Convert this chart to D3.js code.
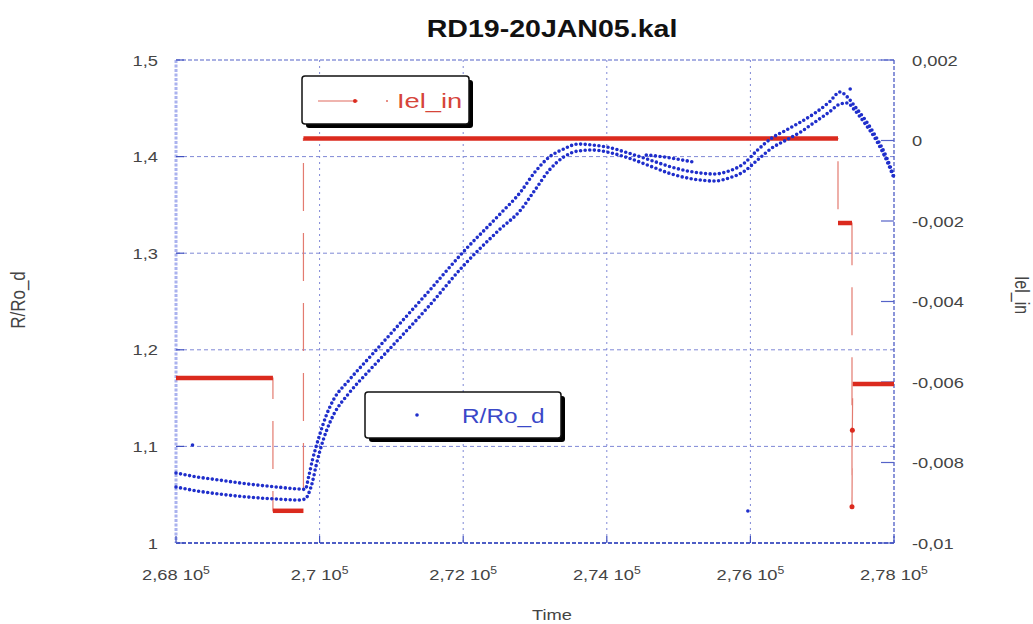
<!DOCTYPE html>
<html>
<head>
<meta charset="utf-8">
<script src="https://cdn.jsdelivr.net/npm/d3@7"></script>
<style>
  body { margin: 0; background: #fff; }
  svg { display: block; }
</style>
</head>
<body>
<div id="chart"></div>
<script>
// axis ticks
const xTicks = [268000, 270000, 272000, 274000, 276000, 278000];
const xTickLabels = ["2,68", "2,7", "2,72", "2,74", "2,76", "2,78"];
const leftTicks = [1, 1.1, 1.2, 1.3, 1.4, 1.5];
const leftTickLabels = ["1", "1,1", "1,2", "1,3", "1,4", "1,5"];
const rightTicks = [-0.01, -0.008, -0.006, -0.004, -0.002, 0, 0.002];
const rightTickLabels = ["-0,01", "-0,008", "-0,006", "-0,004", "-0,002", "0", "0,002"];

// R/Ro_d, two passes read at the same times
const rdTime = [268000, 268300, 268600, 269000, 269400, 269700, 269800, 269850, 269900, 269950,
  270000, 270100, 270200, 270400, 270700, 271000, 271500, 272000, 272500, 272800,
  273000, 273200, 273400, 273600, 273800, 274000, 274300, 274600, 274900, 275200,
  275500, 275700, 275900, 276100, 276300, 276500, 276700, 276900, 277100, 277250,
  277350, 277450, 277600, 277750, 277900, 278000];
const rdUpper = [1.0725, 1.0683, 1.0652, 1.0611, 1.0580, 1.0559, 1.0555, 1.0694, 1.0859, 1.0994,
  1.1118, 1.1335, 1.1491, 1.1677, 1.1925, 1.2174, 1.2588, 1.3012, 1.3395, 1.3634,
  1.3841, 1.3996, 1.4079, 1.4130, 1.4120, 1.4099, 1.4037, 1.3965, 1.3892, 1.3841,
  1.3820, 1.3851, 1.3923, 1.4068, 1.4193, 1.4275, 1.4358, 1.4451, 1.4565, 1.4669,
  1.4617, 1.4524, 1.4379, 1.4203, 1.3986, 1.3789];
const rdLower = [1.0580, 1.0538, 1.0507, 1.0476, 1.0455, 1.0445, 1.0455, 1.0518, 1.0631, 1.0797,
  1.0942, 1.1170, 1.1335, 1.1542, 1.1791, 1.2029, 1.2433, 1.2867, 1.3240, 1.3447,
  1.3654, 1.3861, 1.3996, 1.4058, 1.4068, 1.4048, 1.3986, 1.3903, 1.3820, 1.3768,
  1.3747, 1.3778, 1.3841, 1.3965, 1.4089, 1.4172, 1.4255, 1.4358, 1.4462, 1.4545,
  1.4555, 1.4482, 1.4337, 1.4172, 1.3955, 1.3778];
// short detached piece and stray points
const rdPieceTime = [274550, 274800, 275050, 275200];
const rdPiece = [1.4017, 1.3996, 1.3965, 1.3944];
const rdStrayTime = [268230, 275965, 277390];
const rdStray = [1.1014, 1.0331, 1.4700];

// Iel_in (right axis), step signal
const ielTime = [268000, 269350, 269350, 269775, 269775, 277220, 277220, 277415, 277415, 277420, 277425, 278000];
const ielValue = [-0.0059, -0.0059, -0.0092, -0.0092, 0.00005, 0.00005, -0.00205, -0.00205, -0.0091, -0.0072, -0.00605, -0.00605];

const width = 1033, height = 624;
const SX = 1.22; // the original picture is stretched horizontally
const blue = "#1f2ecb", red = "#db2a1e";
const font = "'Liberation Sans', Arial, Helvetica, sans-serif";

const svg = d3.select("#chart").append("svg")
  .attr("width", width)
  .attr("height", height);

const x = d3.scaleLinear().domain([268000, 278000]).range([176, 894]);
const yL = d3.scaleLinear().domain([1, 1.5]).range([543, 60]);
const yR = d3.scaleLinear().domain([-0.01, 0.002]).range([543, 60]);

function label(parent, px, py, str, o = {}) {
  const g = parent.append("g")
    .attr("transform", `translate(${px},${py}) scale(${o.sx || SX},1)` + (o.rotate ? ` rotate(${o.rotate})` : ""));
  const t = g.append("text")
    .attr("text-anchor", o.anchor || "start")
    .attr("dy", o.dy || 0)
    .style("font-family", font)
    .style("font-size", (o.size || 15) + "px")
    .style("font-weight", o.bold ? "bold" : "normal")
    .style("fill", o.fill || "#444");
  if (str !== null) t.text(str);
  return t;
}

// grid
const grid = svg.append("g");
grid.selectAll(".hg")
  .data(leftTicks.slice(1, -1))
  .enter().append("line")
  .attr("x1", 176).attr("x2", 894)
  .attr("y1", d => yL(d)).attr("y2", d => yL(d))
  .attr("stroke", "#7f88d6").attr("stroke-width", 1)
  .attr("stroke-dasharray", "4,3");
grid.selectAll(".vg")
  .data(xTicks.slice(1, -1))
  .enter().append("line")
  .attr("x1", d => x(d)).attr("x2", d => x(d))
  .attr("y1", 60).attr("y2", 543)
  .attr("stroke", "#7f88d6").attr("stroke-width", 1)
  .attr("stroke-dasharray", "2,4");

// frame
svg.append("line").attr("x1", 176).attr("x2", 894).attr("y1", 60).attr("y2", 60)
  .attr("stroke", "#5563c8").attr("stroke-width", 1.2).attr("stroke-dasharray", "4,2");
svg.append("line").attr("x1", 176).attr("x2", 894).attr("y1", 543).attr("y2", 543)
  .attr("stroke", "#4f5ec6").attr("stroke-width", 2).attr("stroke-dasharray", "4,2");
svg.append("line").attr("x1", 176).attr("x2", 176).attr("y1", 60).attr("y2", 543)
  .attr("stroke", "#aab2ee").attr("stroke-width", 3).attr("stroke-dasharray", "3,1.5");
svg.append("line").attr("x1", 894).attr("x2", 894).attr("y1", 60).attr("y2", 543)
  .attr("stroke", "#3f4fc0").attr("stroke-width", 1.2).attr("stroke-dasharray", "4,2");

// tick marks
svg.selectAll(".lt").data(leftTicks).enter().append("line")
  .attr("x1", 176).attr("x2", 184)
  .attr("y1", d => yL(d)).attr("y2", d => yL(d))
  .attr("stroke", "#3f4fc0").attr("stroke-width", 1.2);
svg.selectAll(".rt").data(rightTicks).enter().append("line")
  .attr("x1", 881).attr("x2", 894)
  .attr("y1", d => yR(d)).attr("y2", d => yR(d))
  .attr("stroke", "#5563c8").attr("stroke-width", 1.2);
svg.selectAll(".xt").data(xTicks).enter().append("line")
  .attr("x1", d => x(d)).attr("x2", d => x(d))
  .attr("y1", 543).attr("y2", 536)
  .attr("stroke", "#3f4fc0").attr("stroke-width", 1.2);

// tick labels
leftTicks.forEach((d, i) => label(svg, 158, yL(d) + 5.5, leftTickLabels[i], { anchor: "end" }));
rightTicks.forEach((d, i) => label(svg, 912, yR(d) + 5.5, rightTickLabels[i]));
xTicks.forEach((d, i) => {
  const t = label(svg, x(d), 580, null, { anchor: "middle" });
  t.append("tspan").text(xTickLabels[i] + " 10");
  t.append("tspan").attr("dy", -6).style("font-size", "10px").text("5");
});

// titles
label(svg, 552, 37, "RD19-20JAN05.kal", { anchor: "middle", size: 24, bold: true, fill: "#111", sx: 1.19 });
label(svg, 552, 620, "Time", { anchor: "middle" });
label(svg, 18, 300, "R/Ro_d", { anchor: "middle", rotate: -90, size: 17, dy: "0.35em" });
label(svg, 1022, 295, "Iel_in", { anchor: "middle", rotate: 90, size: 16, dy: "0.35em" });

// Iel_in series
const ielPts = ielTime.map((t, i) => [t, ielValue[i]]);
svg.append("path")
  .attr("d", d3.line().x(d => x(d[0])).y(d => yR(d[1]))(ielPts))
  .attr("fill", "none")
  .attr("stroke", "#e37b70").attr("stroke-width", 1.2)
  .attr("stroke-dasharray", "48,22");
const flat = [];
const inFlat = new Set();
for (let i = 0; i < ielPts.length - 1; i++) {
  if (ielPts[i][1] === ielPts[i + 1][1]) {
    flat.push([ielPts[i], ielPts[i + 1]]);
    inFlat.add(i); inFlat.add(i + 1);
  }
}
svg.selectAll(".iflat").data(flat).enter().append("line")
  .attr("x1", d => x(d[0][0])).attr("x2", d => x(d[1][0]))
  .attr("y1", d => yR(d[0][1])).attr("y2", d => yR(d[1][1]))
  .attr("stroke", red).attr("stroke-width", 4.5);
svg.selectAll(".idot").data(ielPts.filter((d, i) => !inFlat.has(i))).enter().append("circle")
  .attr("cx", d => x(d[0])).attr("cy", d => yR(d[1])).attr("r", 2.5)
  .attr("fill", red);

// R/Ro_d series, dotted
const rdLine = d3.line().curve(d3.curveMonotoneX).x(d => x(d[0])).y(d => yL(d[1]));
[rdUpper, rdLower].forEach(vals => {
  svg.append("path")
    .attr("d", rdLine(rdTime.map((t, i) => [t, vals[i]])))
    .attr("fill", "none")
    .attr("stroke", blue).attr("stroke-width", 3.6)
    .attr("stroke-linecap", "round")
    .attr("stroke-dasharray", "0,4.6");
});
svg.append("path")
  .attr("d", rdLine(rdPieceTime.map((t, i) => [t, rdPiece[i]])))
  .attr("fill", "none")
  .attr("stroke", blue).attr("stroke-width", 3.6)
  .attr("stroke-linecap", "round")
  .attr("stroke-dasharray", "0,4.6");
svg.selectAll(".stray").data(rdStrayTime.map((t, i) => [t, rdStray[i]])).enter().append("circle")
  .attr("cx", d => x(d[0])).attr("cy", d => yL(d[1])).attr("r", 1.8)
  .attr("fill", blue);

// legends
function legendBox(x0, y0, w, h) {
  const g = svg.append("g");
  g.append("rect").attr("x", x0 + 4).attr("y", y0 + 4).attr("width", w).attr("height", h)
    .attr("rx", 3).attr("fill", "#000");
  g.append("rect").attr("x", x0).attr("y", y0).attr("width", w).attr("height", h)
    .attr("rx", 3).attr("fill", "#fff").attr("stroke", "#111").attr("stroke-width", 1.5);
  return g;
}
const lg1 = legendBox(302, 76, 167, 48);
lg1.append("line").attr("x1", 318).attr("x2", 358).attr("y1", 101).attr("y2", 101)
  .attr("stroke", "#e06a5e").attr("stroke-width", 1.2);
lg1.append("circle").attr("cx", 355).attr("cy", 101).attr("r", 2).attr("fill", red);
lg1.append("circle").attr("cx", 387).attr("cy", 101).attr("r", 1).attr("fill", "#e06a5e");
label(lg1, 397, 108, "Iel_in", { size: 21, fill: "#d6453a", sx: 1.3 });

const lg2 = legendBox(365, 392, 196, 46);
lg2.append("circle").attr("cx", 417).attr("cy", 415).attr("r", 1.8).attr("fill", blue);
label(lg2, 462, 423, "R/Ro_d", { size: 20, fill: "#3a48c8" });
</script>
</body>
</html>
